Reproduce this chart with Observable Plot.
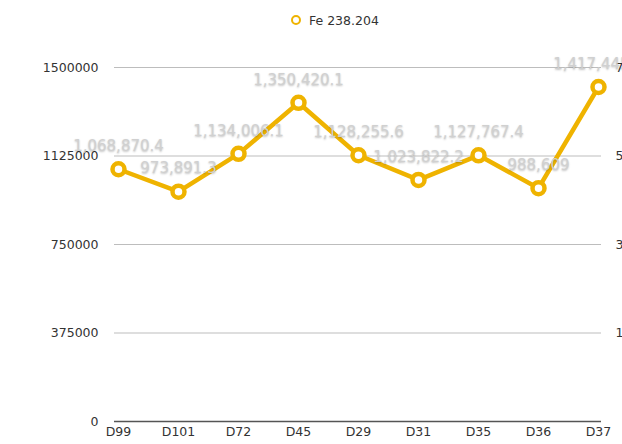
<!DOCTYPE html>
<html>
<head>
<meta charset="utf-8">
<script src="https://cdn.jsdelivr.net/npm/d3@7"></script>
<script src="https://cdn.jsdelivr.net/npm/@observablehq/plot@0.6"></script>
<style>
  html, body { margin: 0; padding: 0; background: white; overflow: hidden; width: 622px; height: 444px; }
  #legend { height: 40px; display: flex; align-items: center; padding-left: 291px; font-family: "DejaVu Sans", sans-serif; font-size: 12.5px; color: #333; }
  #legend .sw { width: 6px; height: 6px; border: 2.5px solid #efb300; border-radius: 50%; margin-right: 8px; }
  .vlabel text { text-shadow: 0 1px 2px rgba(0,0,0,0.25); }
</style>
</head>
<body>
<div id="legend"></div>
<div id="chart"></div>
<script>
const categories = ["D99", "D101", "D72", "D45", "D29", "D31", "D35", "D36", "D37"];
const values = [1068870.4, 973891.3, 1134006.1, 1350420.1, 1128255.6, 1023822.2, 1127767.4, 988609, 1417445.2];
const yTicks = [0, 375000, 750000, 1125000, 1500000];
const rightTicks = [375000, 750000, 1125000, 1500000];
const rightTickLabels = ["1.75", "3.5", "5.25", "7"];
const seriesName = "Fe 238.204";
const lineColor = "#efb300";

const data = categories.map((c, i) => ({cat: c, value: values[i]}));

const legend = document.getElementById("legend");
legend.innerHTML = `<span class="sw"></span><span>${seriesName}</span>`;

const chart = Plot.plot({
  width: 640,
  height: 404,
  marginTop: 27,
  marginBottom: 23,
  marginLeft: 114,
  marginRight: 39,
  style: {fontFamily: "DejaVu Sans, sans-serif", fontSize: "12.5px", color: "#333", background: "white", maxWidth: "none", overflow: "visible"},
  x: {type: "point", domain: categories, padding: 0, label: null},
  y: {domain: [0, 1500000], label: null},
  marks: [
    Plot.ruleY(yTicks.filter(d => d > 0), {stroke: "#bdbdbd", strokeWidth: 1}),
    Plot.ruleY([0], {stroke: "#555", strokeWidth: 1.5}),
    Plot.axisY(yTicks, {tickSize: 0, tickPadding: 16, tickFormat: d => String(d), label: null}),
    Plot.axisY(rightTicks, {anchor: "right", tickSize: 0, tickPadding: 14, tickFormat: d => rightTickLabels[rightTicks.indexOf(d)], label: null}),
    Plot.axisX({tickSize: 0, tickPadding: 6, label: null}),
    Plot.line(data, {x: "cat", y: "value", stroke: lineColor, strokeWidth: 4.5}),
    Plot.dot(data, {x: "cat", y: "value", r: 6, fill: "white", stroke: lineColor, strokeWidth: 4.5}),
    Plot.text(data, {x: "cat", y: "value", text: d => d3.format(",")(d.value), dy: -23, fill: "#d0d0d0", fontSize: 15, className: "vlabel"})
  ]
});
document.getElementById("chart").appendChild(chart);
</script>
</body>
</html>
